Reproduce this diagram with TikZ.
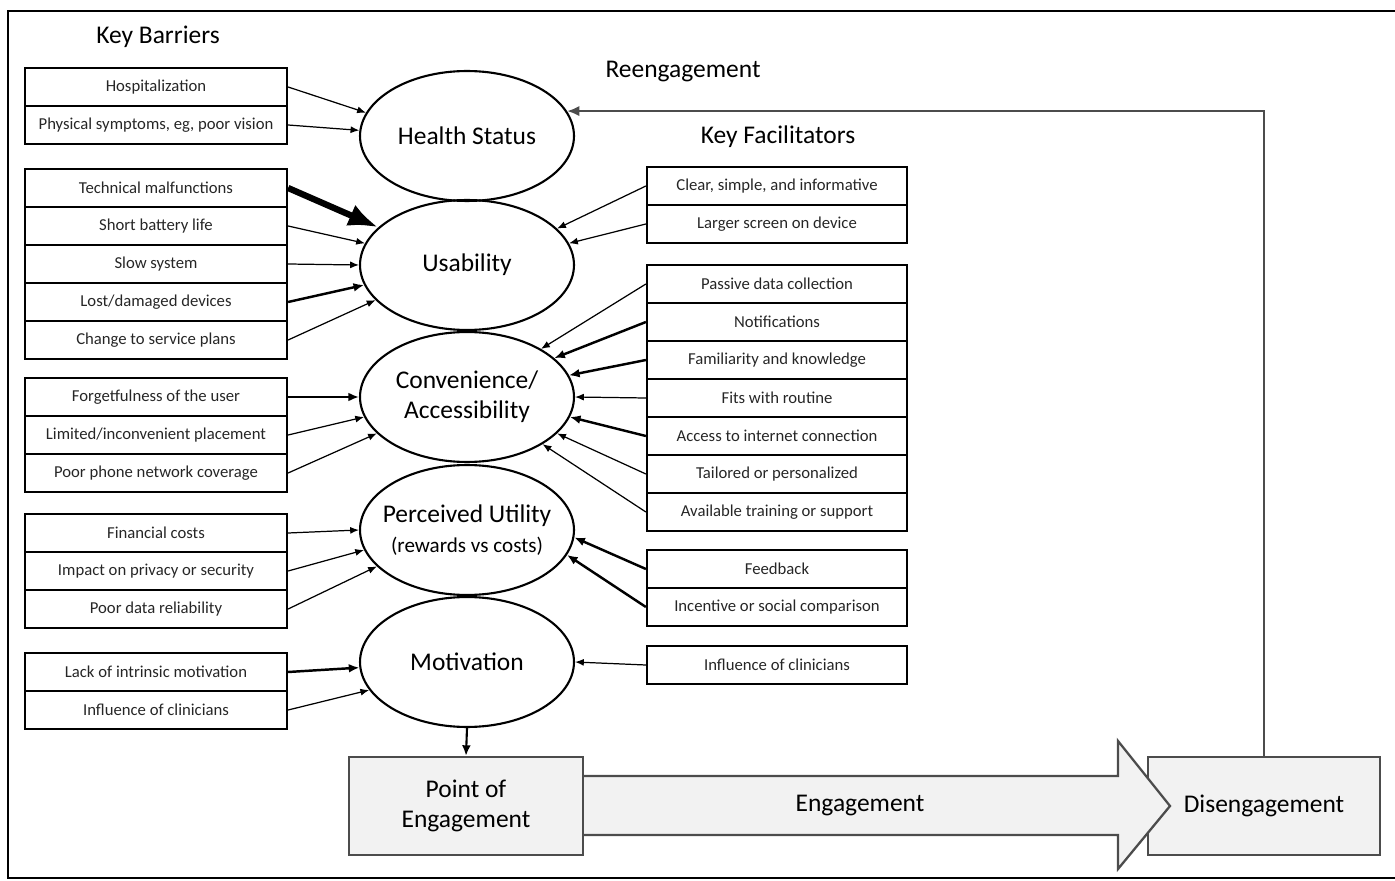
\documentclass[tikz,border=0pt]{standalone}
\usepackage{fontspec}
\setmainfont{Carlito}
\usetikzlibrary{shapes}
\usetikzlibrary{positioning}
\usetikzlibrary{arrows.meta}
\tikzset{
    barbox/.style = {rectangle, line width=1.3pt, draw=black, minimum width=5.24cm, minimum height=0.76cm, inner sep=0pt, align=center, font=\fontsize{9.5}{11}\selectfont, text=black!85},
    facbox/.style = {barbox, minimum width=5.2cm},
    factor/.style = {ellipse, line width=1.2pt, draw=black, minimum width=4.28cm, minimum height=2.6cm, inner sep=0pt, align=center, font=\fontsize{14.5}{17}\selectfont},
    stage/.style = {rectangle, line width=1.3pt, draw=black!70, fill=gray!10, minimum width=4.68cm, minimum height=1.96cm, inner sep=0pt, align=center, font=\fontsize{14.5}{17}\selectfont},
    heading/.style = {font=\fontsize{14.5}{17}\selectfont},
    edgen/.style = {-{Latex[length=5pt,width=4pt]}, line width=0.7pt, black},
    edgem/.style = {-{Latex[length=6pt,width=5pt]}, line width=1.4pt, black},
    edgek/.style = {-{Latex[length=17pt,width=13pt]}, line width=3.6pt, black},
    edger/.style = {-{Latex[length=7pt,width=6pt]}, line width=1.4pt, black!70},
    edges/.style = {-{Latex[length=6pt,width=5pt]}, line width=1.2pt, black},
}

\begin{document}
\begin{tikzpicture}[x=0.02cm,y=-0.02cm]
\path[use as bounding box] (0,0) rectangle (1395,881);
\draw[line width=1.1pt] (1400,11) -- (8,11) -- (8,878) -- (1400,878);
%
\node[heading] at (158,37) (kb) {Key Barriers};
\node[heading] at (683,72) (re) {Reengagement};
\node[heading] at (778,137) (kf) {Key Facilitators};
%
\node[factor] at (467,136) (hs) {Health Status};
\node[factor] at (467,265) (us) {Usability};
\node[factor] at (467,397) (ca) {Convenience/\\Accessibility};
\node[factor, inner xsep=-7pt] at (467,530) (pu) {Perceived Utility\\{\fontsize{12}{14}\selectfont (rewards vs costs)}};
\node[factor] at (467,662) (mo) {Motivation};
%
\node[barbox] at (156,87) (hosp) {Hospitalization};
\node[barbox] at (156,125) (phys) {Physical symptoms, eg, poor vision};
\node[barbox] at (156,188) (tech) {Technical malfunctions};
\node[barbox] at (156,226) (batt) {Short battery life};
\node[barbox] at (156,264) (slow) {Slow system};
\node[barbox] at (156,302) (lost) {Lost/damaged devices};
\node[barbox] at (156,340) (plan) {Change to service plans};
\node[barbox] at (156,397) (forg) {Forgetfulness of the user};
\node[barbox] at (156,435) (plac) {Limited/inconvenient placement};
\node[barbox] at (156,473) (netw) {Poor phone network coverage};
\node[barbox] at (156,533) (cost) {Financial costs};
\node[barbox] at (156,571) (priv) {Impact on privacy or security};
\node[barbox] at (156,609) (data) {Poor data reliability};
\node[barbox] at (156,672) (lack) {Lack of intrinsic motivation};
\node[barbox] at (156,710) (clil) {Influence of clinicians};
%
\node[facbox] at (777,186) (clear) {Clear, simple, and informative};
\node[facbox] at (777,224) (scrn) {Larger screen on device};
\node[facbox] at (777,284) (pass) {Passive data collection};
\node[facbox] at (777,322) (noti) {Notifications};
\node[facbox] at (777,360) (fami) {Familiarity and knowledge};
\node[facbox] at (777,398) (rout) {Fits with routine};
\node[facbox] at (777,436) (inet) {Access to internet connection};
\node[facbox] at (777,474) (tail) {Tailored or personalized};
\node[facbox] at (777,512) (trai) {Available training or support};
\node[facbox] at (777,569) (feed) {Feedback};
\node[facbox] at (777,607) (ince) {Incentive or social comparison};
\node[facbox] at (777,665) (clir) {Influence of clinicians};
%
\node[stage] at (466,806) (poe) {Point of\\Engagement};
\node[stage, minimum width=4.64cm] at (1264,806) (dis) {Disengagement};
\filldraw[line width=1.3pt, draw=black!70, fill=gray!10, line join=miter]
  (poe.east |- 0,776) -- (1118,776) -- (1118,741) -- (1170,806)
  -- (1118,869) -- (1118,835) -- (poe.east |- 0,835);
\node[heading] at (860,806) (eng) {Engagement};
%
\draw[edgen] (hosp.east) -- (hs.167);
\draw[edgen] (phys.east) -- (hs.177);
\draw[edgek] (tech.east) -- (us.157);
\draw[edgen] (batt.east) -- (us.168);
\draw[edgen] (slow.east) -- (us.180);
\draw[edgem] (lost.east) -- (us.191);
\draw[edgen] (plan.east) -- (us.201);
\draw[edgem] (forg.east) -- (ca.180);
\draw[edgen] (plac.east) -- (ca.191);
\draw[edgen] (netw.east) -- (ca.202);
\draw[edgen] (cost.east) -- (pu.180);
\draw[edgen] (priv.east) -- (pu.191);
\draw[edgen] (data.east) -- (pu.202);
\draw[edgem] (lack.east) -- (mo.183);
\draw[edgen] (clil.east) -- (mo.196);
%
\draw[edgen] (clear.west) -- (us.22);
\draw[edgen] (scrn.west) -- (us.12);
\draw[edgen] (pass.west) -- (ca.33);
\draw[edgem] (noti.west) -- (ca.24);
\draw[edgem] (fami.west) -- (ca.12);
\draw[edgen] (rout.west) -- (ca.0);
\draw[edgem] (inet.west) -- (ca.349);
\draw[edgen] (tail.west) -- (ca.338);
\draw[edgen] (trai.west) -- (ca.328);
\draw[edgem] (feed.west) -- (pu.356);
\draw[edgem] (ince.west) -- (pu.346);
\draw[edgen] (clir.west) -- (mo.0);
%
\draw[edges] (mo.south) -- (poe.north);
\draw[edger] (dis.north) |- (hs.14);
\end{tikzpicture}
\end{document}
